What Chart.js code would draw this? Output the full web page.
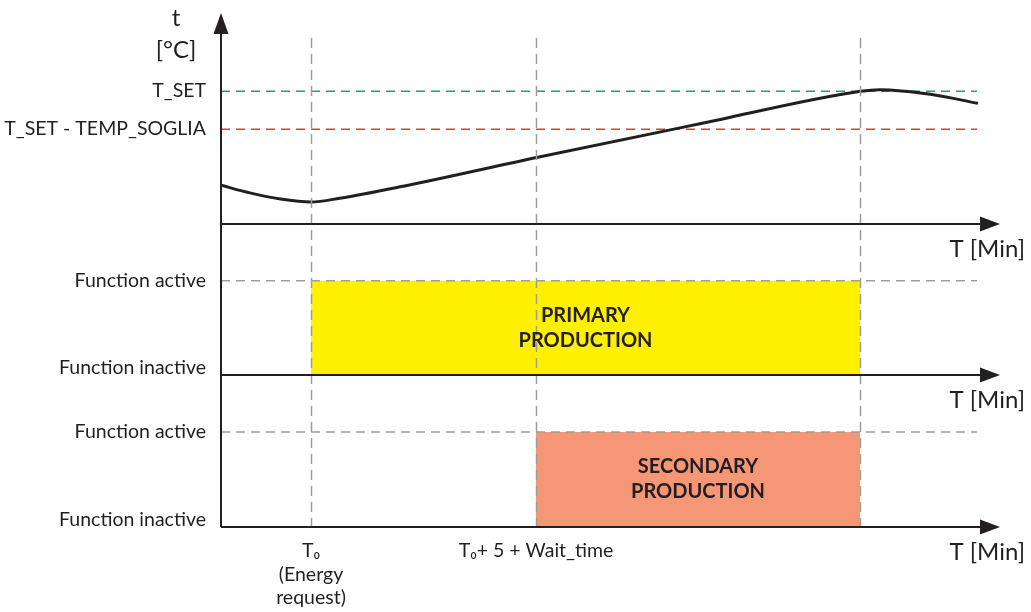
<!DOCTYPE html>
<html>
<head>
<meta charset="utf-8">
<script src="https://cdn.jsdelivr.net/npm/chart.js@4/dist/chart.umd.min.js"></script>
<style>
  html, body { margin: 0; padding: 0; background: #fff; }
  canvas { display: block; }
</style>
</head>
<body>
<canvas id="diagram" width="1031" height="612"></canvas>
<script>
// time axis (minutes) and water temperature
const timeMin = [0, 3.2, 6.6, 10, 13.2, 19.9, 35.2, 53.2, 71.1, 73.2, 78.8, 84.1];
const tempC   = [47.6, 46.6, 45.8, 45.4, 45.9, 47.4, 51.3, 55.7, 60.0, 60.2, 59.6, 58.4];

// set point and threshold
const T_SET = 60;
const TEMP_SOGLIA = 5;

// timing
const T0 = 10;          // energy request
const WAIT_TIME = 20;   // T0 + 5 + Wait_time
const PRODUCTION_END = 71;
const END_TIME = 84;

// states: 0 = inactive, 1 = active
const primaryStart = [T0];
const primaryEnd = [PRODUCTION_END];
const secondaryStart = [T0 + 5 + WAIT_TIME];
const secondaryEnd = [PRODUCTION_END];

// tick labels
const tempTicks = [T_SET - TEMP_SOGLIA, T_SET];
const tempTickLabels = ['T_SET - TEMP_SOGLIA', 'T_SET'];
const stateTicks = [0, 1];
const stateTickLabels = [['Function inactive', ''], 'Function active'];
const timeTicks = [T0, T0 + 5 + WAIT_TIME];
const timeTickLabels = [['T\u2080', '(Energy', 'request)'], 'T\u2080+ 5 + Wait_time'];

const INK = '#231f20';
const GREY = '#9d9d9c';
const FONT = 'Lato';

// curva + rettangoli + linee tratteggiate
const curve = timeMin.map((t, i) => ({ x: t, y: tempC[i] }));
const hLine = (y, axis, color) => ({
  data: [{ x: 0, y }, { x: END_TIME, y }],
  yAxisID: axis, borderColor: color, borderWidth: 1.5, borderDash: [9, 6],
  pointRadius: 0, fill: false, order: 2,
});
const block = (s, e, axis, color) => ({
  data: [{ x: s, y: 1 }, { x: e, y: 1 }],
  yAxisID: axis, borderWidth: 0, backgroundColor: color,
  pointRadius: 0, fill: 'origin', order: 3,
});

function arrow(ctx, x, y, dir) {
  ctx.beginPath();
  if (dir === 'right') {
    ctx.moveTo(x, y); ctx.lineTo(x - 20, y - 7.5); ctx.lineTo(x - 20, y + 7.5);
  } else {
    ctx.moveTo(x, y); ctx.lineTo(x - 7.5, y + 21); ctx.lineTo(x + 7.5, y + 21);
  }
  ctx.closePath();
  ctx.fill();
}

// niente padding extra dalle etichette
const noPad = s => { s.paddingTop = 0; s.paddingBottom = 0; s.paddingLeft = 0; s.paddingRight = 0; };

const diagramPlugin = {
  id: 'diagram',
  afterDatasetsDraw(chart) {
    const { ctx, chartArea } = chart;
    const { x, yTemp, yPrim, ySec } = chart.scales;
    ctx.save();

    // linee verticali tratteggiate
    ctx.strokeStyle = GREY;
    ctx.lineWidth = 1.5;
    ctx.setLineDash([10, 6]);
    [T0, T0 + 5 + WAIT_TIME, PRODUCTION_END].forEach(t => {
      const px = Math.round(x.getPixelForValue(t)) + 0.5;
      ctx.beginPath();
      ctx.moveTo(px, chartArea.top + 25);
      ctx.lineTo(px, chartArea.bottom);
      ctx.stroke();
    });
    ctx.setLineDash([]);

    // assi
    ctx.strokeStyle = INK;
    ctx.fillStyle = INK;
    ctx.lineWidth = 2;
    const left = chartArea.left;
    ctx.beginPath();
    ctx.moveTo(left, chartArea.top + 15);
    ctx.lineTo(left, chartArea.bottom);
    ctx.stroke();
    arrow(ctx, left, chartArea.top, 'up');

    [yTemp, yPrim, ySec].forEach(s => {
      const py = s.bottom;
      ctx.beginPath();
      ctx.moveTo(left, py);
      ctx.lineTo(chartArea.right - 10, py);
      ctx.stroke();
      arrow(ctx, chartArea.right, py, 'right');
      ctx.font = `24px ${FONT}`;
      ctx.textAlign = 'right';
      ctx.textBaseline = 'middle';
      ctx.fillText('T [Min]', chartArea.right + 25, py + 25);
    });

    // etichetta asse temperatura
    ctx.font = `24px ${FONT}`;
    ctx.textAlign = 'center';
    ctx.textBaseline = 'middle';
    ctx.fillText('t', left - 45, chartArea.top + 5);
    ctx.fillText('[°C]', left - 45, chartArea.top + 37);

    // testi nei rettangoli
    ctx.font = `bold 20px ${FONT}`;
    const label = (s, e, scale, lines) => {
      const cx = (x.getPixelForValue(s) + x.getPixelForValue(e)) / 2;
      const cy = (scale.getPixelForValue(0) + scale.getPixelForValue(1)) / 2;
      ctx.fillText(lines[0], cx, cy - 12.5);
      ctx.fillText(lines[1], cx, cy + 12.5);
    };
    label(primaryStart[0], primaryEnd[0], yPrim, ['PRIMARY', 'PRODUCTION']);
    label(secondaryStart[0], secondaryEnd[0], ySec, ['SECONDARY', 'PRODUCTION']);
    ctx.restore();
  }
};

const tickFont = { family: FONT, size: 19.5 };
const stateAxis = (weight) => ({
  type: 'linear', position: 'left', stack: 'diagram', stackWeight: weight, weight: weight === 151 ? 2 : 1,
  min: 0, max: 1.6,
  grid: { display: false, drawTicks: false }, border: { display: false },
  afterBuildTicks: s => { s.ticks = stateTicks.map(v => ({ value: v })); },
  afterFit: s => { s.width = 221; noPad(s); },
  ticks: {
    padding: 15, color: INK, font: { ...tickFont, lineHeight: '15px' },
    callback: v => stateTickLabels[stateTicks.indexOf(v)],
  },
});

new Chart(document.getElementById('diagram'), {
  type: 'line',
  data: {
    datasets: [
      block(primaryStart[0], primaryEnd[0], 'yPrim', '#fff000'),
      block(secondaryStart[0], secondaryEnd[0], 'ySec', '#f59677'),
      hLine(T_SET, 'yTemp', '#1ea55a'),
      hLine(T_SET - TEMP_SOGLIA, 'yTemp', '#e8383d'),
      hLine(1, 'yPrim', GREY),
      hLine(1, 'ySec', GREY),
      {
        data: curve, yAxisID: 'yTemp', borderColor: INK, borderWidth: 3,
        cubicInterpolationMode: 'monotone', pointRadius: 0, fill: false, order: 1,
      },
    ]
  },
  options: {
    responsive: false,
    animation: false,
    layout: { padding: { top: 13, right: 31, left: 0, bottom: 0 } },
    plugins: { legend: { display: false }, tooltip: { enabled: false } },
    scales: {
      x: {
        type: 'linear', min: 0, max: 86.55,
        grid: { display: false, drawTicks: false }, border: { display: false },
        afterBuildTicks: s => { s.ticks = timeTicks.map(v => ({ value: v })); },
        afterFit: s => { s.height = 85; noPad(s); },
        ticks: {
          padding: 12, color: INK, maxRotation: 0, autoSkip: false,
          font: { ...tickFont, lineHeight: '23.5px' },
          callback: v => timeTickLabels[timeTicks.indexOf(v)],
        },
      },
      yTemp: {
        type: 'linear', position: 'left', stack: 'diagram', stackWeight: 211, weight: 3,
        min: 42.5, max: 70.3,
        grid: { display: false, drawTicks: false }, border: { display: false },
        afterBuildTicks: s => { s.ticks = tempTicks.map(v => ({ value: v })); },
        afterFit: s => { s.width = 221; noPad(s); },
        ticks: {
          padding: 15, color: INK, font: tickFont,
          callback: v => tempTickLabels[tempTicks.indexOf(v)],
        },
      },
      yPrim: stateAxis(151),
      ySec: stateAxis(152),
    }
  },
  plugins: [diagramPlugin]
});
</script>
</body>
</html>
